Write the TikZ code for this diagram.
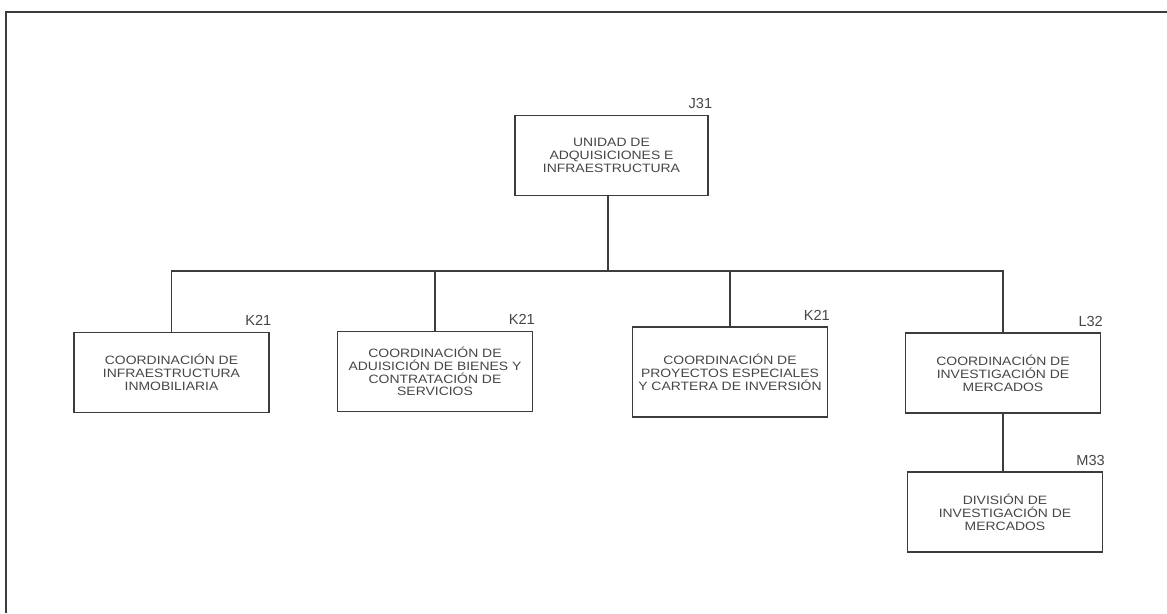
\documentclass[tikz,border=0pt]{standalone}
\usepackage{fontspec}
\setmainfont{Liberation Sans}
\newfontfamily\orgfont[FakeStretch=1.15]{Liberation Sans}
\usepackage{tikz}
\usetikzlibrary{positioning}
\definecolor{linegray}{RGB}{60,60,60}
\definecolor{textgray}{RGB}{70,70,70}

\begin{document}
\begin{tikzpicture}[
    x=0.02cm, y=-0.02cm,
    unit/.style={draw=linegray, line width=1.1pt, minimum width=3.9cm, minimum height=1.6cm,
        align=center, text=textgray, font=\orgfont\fontsize{6.9}{7.3}\selectfont, inner sep=1pt},
    code/.style={font=\fontsize{8.3}{9}\selectfont, text=textgray, inner sep=0pt},
    link/.style={draw=linegray, line width=1.1pt},
]
    \useasboundingbox (0,0) rectangle (1167,613);
    % marco
    \draw[linegray, line width=1.6pt] (6,613) -- (6,12) -- (1167,12);

    \node[unit, minimum width=3.86cm] (jefe) at (611.5,155.5) {UNIDAD DE\\ADQUISICIONES E\\INFRAESTRUCTURA};
    \node[unit] (coord1) at (171.5,372.5) {COORDINACIÓN DE\\INFRAESTRUCTURA\\INMOBILIARIA};
    \node[unit] (coord2) at (435,371.5) {COORDINACIÓN DE\\ADUISICIÓN DE BIENES Y\\CONTRATACIÓN DE\\SERVICIOS};
    \node[unit, minimum height=1.8cm] (coord3) at (730,372) {COORDINACIÓN DE\\PROYECTOS ESPECIALES\\Y CARTERA DE INVERSIÓN};
    \node[unit] (coord4) at (1003,373) {COORDINACIÓN DE\\INVESTIGACIÓN DE\\MERCADOS};
    \node[unit] (div1) at (1005,512) {DIVISIÓN DE\\INVESTIGACIÓN DE\\MERCADOS};

    \node[code, above left=3pt and -2pt of jefe.north east] {J31};
    \node[code, above left=3pt and -1pt of coord1.north east] {K21};
    \node[code, above left=3pt and -1pt of coord2.north east] {K21};
    \node[code, above left=3pt and -1pt of coord3.north east] {K21};
    \node[code, above left=3pt and -1pt of coord4.north east] {L32};
    \node[code, above left=3pt and -1pt of div1.north east] {M33};

    \coordinate (bus) at (608,271);
    \draw[link] (bus |- jefe.south) -- (bus);
    \draw[link] (coord1.north) |- (bus) -| (coord4.north);
    \draw[link] (coord2.north) -- (coord2.north |- bus);
    \draw[link] (coord3.north) -- (coord3.north |- bus);
    \draw[link] (coord4.south) -- (coord4.south |- div1.north);
\end{tikzpicture}
\end{document}
